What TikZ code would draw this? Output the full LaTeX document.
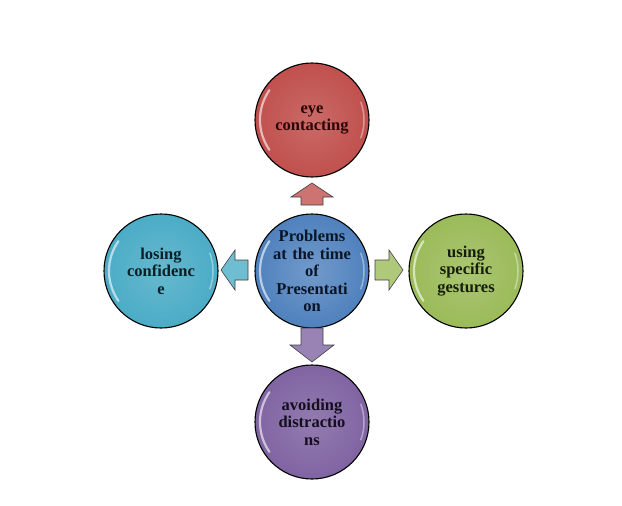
\documentclass[tikz,border=0pt]{standalone}
\usepackage{fontspec}
\setmainfont{Liberation Serif}
\begin{document}
\begin{tikzpicture}[x=1pt,y=-1pt,
  bub/.style={circle, draw=black, line width=1.1pt, minimum size=114pt, inner sep=-14pt,
    align=center, font=\bfseries\fontsize{16.5}{17.5}\selectfont, text width=90pt},
  arr/.style={draw=black!75, line width=0.6pt, line join=miter}]
\useasboundingbox (0,0) rectangle (622,506);
\definecolor{cred}{HTML}{C0504D}
\definecolor{cblue}{HTML}{4F81BD}
\definecolor{cgreen}{HTML}{9BBB59}
\definecolor{cpurple}{HTML}{8064A2}
\definecolor{caqua}{HTML}{4BACC6}
\definecolor{tred}{HTML}{2A0606}
\definecolor{tblue}{HTML}{0A1628}
\definecolor{tgreen}{HTML}{161E0A}
\definecolor{tpurple}{HTML}{140E1E}
\definecolor{taqua}{HTML}{082026}

\node[bub, inner color=cblue!80!white, outer color=cblue, text=tblue] (c) at (312,271) {Problems\\at the time\\of\\Presentati\\on};
\node[bub, inner color=cred!85!white, outer color=cred, text=tred] (t) at (312,120) {eye\\contacting};
\node[bub, inner color=caqua!85!white, outer color=caqua, text=taqua] (l) at (161,271) {losing\\confidenc\\e};
\node[bub, inner color=cgreen!85!white, outer color=cgreen, text=tgreen] (r) at (466,271) {using\\specific\\gestures};
\node[bub, inner color=cpurple!85!white, outer color=cpurple, text=tpurple] (b) at (312,422) {avoiding\\distractio\\ns};

% glossy reflections
\foreach \n in {c,t,l,r,b}{
  \draw[white, opacity=0.6, line width=2.2pt, line cap=round]
    (\n.center) ++(145:52) arc[start angle=145, end angle=215, radius=52];
  \draw[white, opacity=0.4, line width=1.5pt, line cap=round]
    (\n.center) ++(20:52) arc[start angle=20, end angle=-20, radius=52];
}

% arrows
\coordinate (ua) at (312,183);
\filldraw[arr, fill=cred!80!white]
  (ua) -- ++(21,14) -- ++(-10,0) -- ++(0,8) -- ++(-22,0) -- ++(0,-8) -- ++(-10,0) -- cycle;
\coordinate (da) at (312,362);
\filldraw[arr, fill=cpurple!80!white]
  (da) -- ++(22,-17) -- ++(-11,0) -- ++(0,-17) -- ++(-22,0) -- ++(0,17) -- ++(-11,0) -- cycle;
\coordinate (la) at (221,270);
\filldraw[arr, fill=caqua!80!white]
  (la) -- ++(14,-20) -- ++(0,10) -- ++(13,0) -- ++(0,20) -- ++(-13,0) -- ++(0,10) -- cycle;
\coordinate (ra) at (403,270);
\filldraw[arr, fill=cgreen!80!white]
  (ra) -- ++(-14,-20) -- ++(0,10) -- ++(-14,0) -- ++(0,20) -- ++(14,0) -- ++(0,10) -- cycle;
\end{tikzpicture}
\end{document}
